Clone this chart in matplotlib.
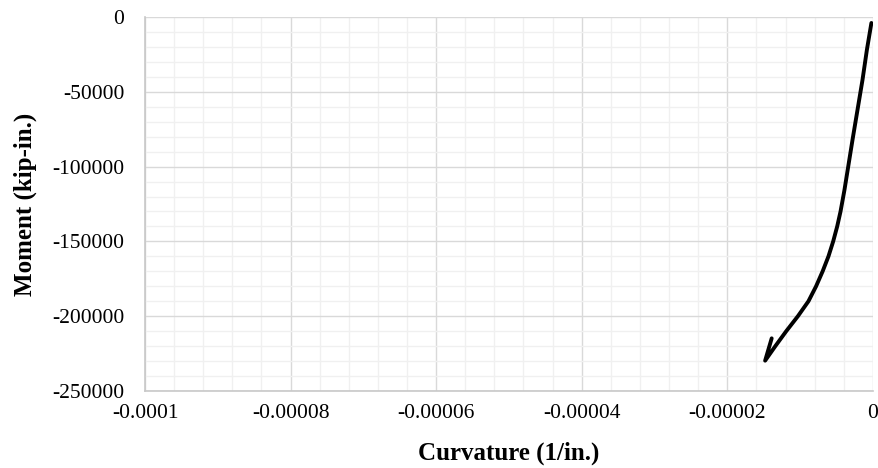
import matplotlib.pyplot as plt
from matplotlib.ticker import MultipleLocator, FuncFormatter

plt.rcParams['font.family'] = ['Liberation Serif', 'DejaVu Serif']

# Moment-curvature data
curvatura = [-0.2e-6, -0.82e-6, -1.42e-6, -2.79e-6, -3.9e-6, -4.44e-6, -4.9e-6, -5.45e-6,
             -6.1e-6, -6.9e-6, -7.8e-6, -8.85e-6, -10.3e-6, -11.9e-6, -13.4e-6, -14.8e-6, -13.9e-6]
momento = [-4000, -22000, -42000, -82000, -115600, -130000, -140000, -150000,
           -160000, -170000, -180000, -190000, -200000, -210000, -220000, -229700, -214800]

fig = plt.figure(figsize=(8.79, 4.68), dpi=100)
ax = fig.add_axes([0.165, 0.1645, 0.828, 0.7992])

ax.plot(curvatura, momento, color='black', linewidth=2.8, solid_joinstyle='round',
        solid_capstyle='round', zorder=3)

ax.set_xlim(-0.0001, 0)
ax.set_ylim(-250000, 0)
ax.xaxis.set_major_locator(MultipleLocator(0.00002))
ax.xaxis.set_minor_locator(MultipleLocator(0.000004))
ax.yaxis.set_major_locator(MultipleLocator(50000))
ax.yaxis.set_minor_locator(MultipleLocator(10000))

def fmt_x(v, pos):
    if abs(v) < 1e-12:
        return "0"
    return ("%.6f" % v).rstrip("0")

ax.xaxis.set_major_formatter(FuncFormatter(fmt_x))
ax.yaxis.set_major_formatter(FuncFormatter(lambda v, p: "%d" % v))

ax.grid(which='major', color='#d9d9d9', linewidth=1.0)
ax.grid(which='minor', color='#f0f0f0', linewidth=1.0)
ax.set_axisbelow(True)

for s in ['top', 'right']:
    ax.spines[s].set_visible(False)
for s in ['left', 'bottom']:
    ax.spines[s].set_color('#c8c8c8')
    ax.spines[s].set_linewidth(1.2)

ax.tick_params(which='both', length=0, labelsize=15.5)
ax.tick_params(axis='x', pad=9)
ax.tick_params(axis='y', pad=15)

ax.set_xlabel("Curvature (1/in.)", fontsize=18, fontweight='bold', labelpad=14)
ax.set_ylabel("Moment (kip-in.)", fontsize=18, fontweight='bold', labelpad=11)

plt.savefig("out.png", dpi=100)
